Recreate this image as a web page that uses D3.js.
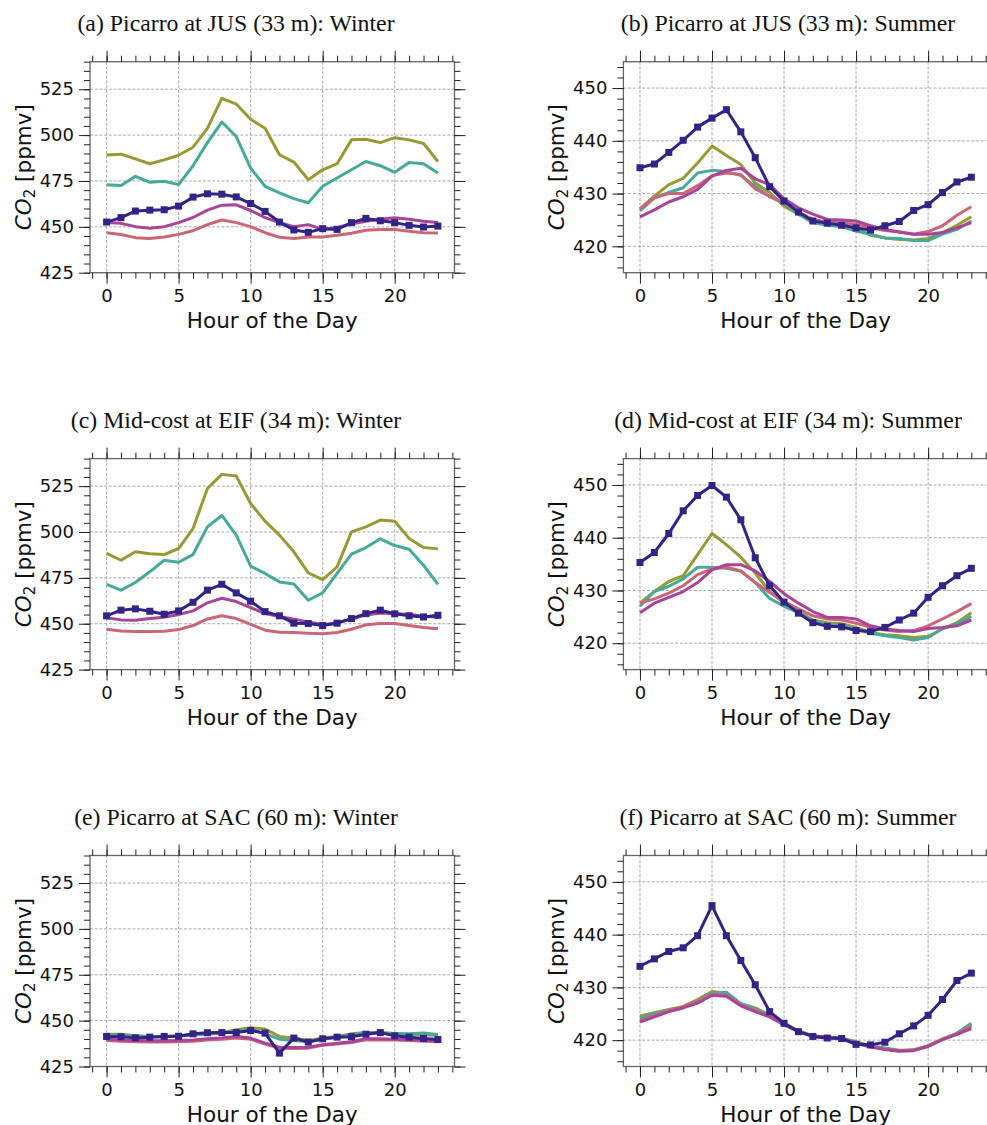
<!DOCTYPE html>
<html>
<head>
<meta charset="utf-8">
<script src="https://cdn.jsdelivr.net/npm/d3@7"></script>
<style>
body { margin: 0; background: #fff; }
svg text { font-family: "DejaVu Sans", sans-serif; fill: #111; }
.title { font-family: "Liberation Serif", "Times New Roman", serif; font-size: 23.8px; }
.tick text { font-size: 18px; }
.axis-label { font-size: 21.5px; }
</style>
</head>
<body>
<svg width="987" height="1125"></svg>
<script>
// hours on the x axis
var hours = [0,1,2,3,4,5,6,7,8,9,10,11,12,13,14,15,16,17,18,19,20,21,22,23];

var titles = [
    '(a) Picarro at JUS (33 m): Winter', '(b) Picarro at JUS (33 m): Summer',
    '(c) Mid-cost at EIF (34 m): Winter', '(d) Mid-cost at EIF (34 m): Summer',
    '(e) Picarro at SAC (60 m): Winter', '(f) Picarro at SAC (60 m): Summer'
];

var winterTicks = [425, 450, 475, 500, 525];
var summerTicks = [420, 430, 440, 450];
var xTicks = [0, 5, 10, 15, 20];

// (a) JUS winter
var aNavy = [452.6,455.0,458.6,459.1,459.3,461.3,466.2,468.0,467.8,466.3,462.7,458.4,452.6,448.3,447.0,449.0,448.6,452.3,454.6,453.3,452.3,450.8,449.9,450.4];
var aOlive = [489.1,489.6,487.0,484.4,486.5,489.0,493.4,503.7,520.0,516.9,508.6,503.7,489.3,485.3,475.7,481.1,484.4,497.4,497.7,495.9,498.6,497.4,495.4,485.6];
var aTeal = [473.0,472.5,477.5,474.3,474.8,473.0,483.3,495.9,507.1,499.2,482.0,472.1,468.5,465.4,463.1,472.1,476.6,481.1,485.6,483.3,479.7,485.1,484.4,479.3];
var aMagenta = [452.3,451.9,450.1,449.2,450.1,452.3,455.1,459.1,461.8,462.0,458.9,455.0,452.3,450.1,451.2,448.6,449.7,451.5,453.0,454.1,455.0,454.1,453.0,452.3];
var aRose = [446.8,445.8,444.1,443.6,444.5,445.9,447.9,451.2,453.7,452.3,450.1,446.8,444.3,443.6,444.5,444.5,445.4,446.5,448.1,448.6,448.6,447.6,446.8,446.7];

// (b) JUS summer
var bNavy = [434.9,435.6,437.8,440.1,442.6,444.3,445.9,441.7,436.8,431.3,428.6,426.5,424.8,424.4,424.0,423.5,423.1,423.9,424.7,426.8,427.9,430.2,432.2,433.1];
var bOlive = [427.1,429.5,431.7,432.9,435.8,439.0,437.2,435.5,432.0,430.2,427.6,426.1,424.8,424.2,424.0,423.5,422.1,421.6,421.3,421.2,421.5,422.6,424.0,425.6];
var bTeal = [426.7,429.2,430.2,431.1,433.9,434.4,434.2,433.4,431.4,429.4,428.1,426.1,424.5,424.0,423.7,422.9,422.3,421.6,421.5,421.1,421.1,422.3,423.2,424.8];
var bMagenta = [425.6,426.9,428.4,429.4,430.8,433.3,434.4,434.8,432.8,431.7,429.0,427.3,426.1,425.1,425.0,424.8,423.9,423.2,422.7,422.3,422.3,422.6,423.5,424.5];
var bRose = [427.1,429.2,430.0,430.0,431.5,433.4,433.9,433.6,430.9,429.5,428.3,426.5,425.1,424.6,424.4,424.2,423.5,423.0,422.7,422.3,422.8,423.9,425.9,427.5];

// (c) EIF winter
var cNavy = [454.3,457.4,458.1,456.8,455.2,457.0,461.7,468.3,471.5,466.8,462.3,456.6,454.3,450.3,450.1,449.0,450.3,452.8,455.5,457.4,455.4,454.3,453.7,454.6];
var cOlive = [488.3,484.6,489.2,488.1,487.7,491.0,501.9,523.7,531.4,530.5,515.5,505.9,498.3,489.2,477.7,474.1,481.0,500.1,502.8,506.5,505.9,496.5,491.5,490.8];
var cTeal = [471.5,468.3,472.5,478.3,484.6,483.5,487.7,502.8,509.0,498.3,481.4,477.4,472.8,471.7,462.8,466.8,477.4,487.9,491.5,496.3,492.6,490.6,481.9,471.5];
var cMagenta = [453.2,452.1,451.9,452.8,453.5,455.0,457.0,461.4,463.9,462.1,458.8,455.5,453.9,452.5,451.0,449.5,450.6,452.5,454.8,455.9,455.5,455.2,454.1,453.5];
var cRose = [447.0,446.1,445.7,445.7,445.9,446.8,449.0,452.6,454.3,452.8,449.7,446.5,445.4,445.2,444.8,444.5,445.2,447.0,449.4,450.1,450.1,449.0,447.9,447.2];

// (d) EIF summer
var dNavy = [435.3,437.2,440.8,445.1,448.0,449.9,447.7,443.4,436.2,430.9,427.8,425.7,423.9,423.2,423.1,422.4,422.2,423.0,424.4,425.7,428.7,430.9,432.8,434.2];
var dOlive = [427.6,429.8,431.7,432.8,436.8,440.8,438.7,436.3,433.3,429.8,427.6,426.0,424.4,423.9,423.7,423.0,422.0,421.6,421.4,421.1,421.3,422.7,423.9,425.8];
var dTeal = [427.0,429.8,430.8,432.2,434.4,434.4,434.2,433.7,431.5,428.5,427.0,425.8,424.2,423.6,423.4,422.7,421.9,421.4,421.1,420.6,421.1,422.8,423.6,425.1];
var dMagenta = [425.8,427.6,428.7,429.8,431.5,433.9,434.9,434.9,433.7,431.7,429.4,427.6,426.0,424.9,424.9,424.6,423.3,422.7,422.4,422.2,422.8,423.0,423.3,424.4];
var dRose = [427.6,428.4,429.5,430.9,433.0,434.1,434.4,433.7,431.5,429.6,427.9,426.5,425.2,424.6,424.4,423.8,423.0,422.5,422.2,422.4,423.3,424.6,426.0,427.5];

// (e) SAC winter
var eNavy = [441.4,441.2,440.6,441.0,441.4,441.5,442.8,443.4,443.5,443.5,444.6,443.2,432.3,440.5,438.3,440.1,441.0,441.2,442.6,443.5,441.7,441.0,440.3,439.7];
var eOlive = [442.6,442.6,441.7,441.4,441.4,441.7,442.3,442.8,443.5,445.0,446.1,445.4,441.4,440.5,439.2,440.5,441.4,442.8,443.5,443.7,442.8,442.3,442.3,441.9];
var eTeal = [442.3,442.1,441.6,441.2,441.2,441.6,442.1,442.6,443.2,444.4,445.4,442.8,439.9,439.2,438.5,439.9,441.0,442.5,443.2,443.2,443.0,442.8,443.2,442.5];
var eMagenta = [439.9,439.5,439.2,439.0,439.0,439.2,439.5,440.1,440.6,441.4,440.5,437.7,435.5,435.4,435.5,436.8,437.7,438.5,440.1,440.1,439.9,439.7,439.4,439.0];
var eRose = [439.2,438.8,438.5,438.3,438.3,438.5,438.8,439.4,439.9,440.5,439.9,437.2,435.0,434.8,435.0,436.6,437.2,438.1,439.5,439.5,439.4,439.2,438.8,438.5];

// (f) SAC summer
var fNavy = [434.0,435.4,436.8,437.5,439.8,445.5,439.8,435.1,430.5,425.4,423.2,421.6,420.7,420.4,420.3,419.2,419.1,419.6,421.2,422.7,424.7,427.7,431.3,432.7];
var fOlive = [424.6,425.2,425.8,426.4,427.7,429.2,428.9,426.9,426.1,424.8,423.2,421.8,420.8,420.6,420.3,419.7,418.9,418.4,418.0,418.2,418.9,420.2,421.3,423.0];
var fTeal = [424.2,425.0,425.6,426.2,427.4,428.9,429.1,426.9,425.9,424.5,423.1,421.7,420.8,420.6,420.4,419.6,418.9,418.5,418.1,418.1,418.9,420.2,421.3,423.2];
var fMagenta = [423.4,424.4,425.4,426.1,427.0,428.5,428.3,426.5,425.4,424.4,422.9,421.6,420.7,420.5,420.3,419.4,418.7,418.2,417.9,418.0,418.8,420.1,421.1,422.2];
var fRose = [423.7,424.7,425.6,426.3,427.3,428.7,428.5,426.7,425.6,424.5,423.0,421.7,420.8,420.6,420.3,419.5,418.8,418.3,418.0,418.1,418.9,420.2,421.2,422.6];

var colors = {olive: '#999933', teal: '#44aa99', rose: '#cc6677', magenta: '#aa4499', navy: '#332288'};

var panels = [
    {olive: aOlive, teal: aTeal, rose: aRose, magenta: aMagenta, navy: aNavy},
    {olive: bOlive, teal: bTeal, rose: bRose, magenta: bMagenta, navy: bNavy},
    {olive: cOlive, teal: cTeal, rose: cRose, magenta: cMagenta, navy: cNavy},
    {olive: dOlive, teal: dTeal, rose: dRose, magenta: dMagenta, navy: dNavy},
    {olive: eOlive, teal: eTeal, rose: eRose, magenta: eMagenta, navy: eNavy},
    {olive: fOlive, teal: fTeal, rose: fRose, magenta: fMagenta, navy: fNavy}
];
var drawOrder = ['olive', 'teal', 'rose', 'magenta', 'navy'];

var svg = d3.select('svg');

// layout
var colX = [90, 623.4];
var rowY = [61.7, 458.6, 855.5];
var titleX = [236, 788];
var W = 364.5, H = 211;

panels.forEach(function(p, i) {
    var col = i % 2, row = Math.floor(i / 2);
    var summer = col === 1;

    var g = svg.append('g')
        .attr('transform', 'translate(' + [colX[col], rowY[row]] + ')');

    var xScale = d3.scaleLinear().domain([-1.15, 24.15]).range([0, W]);
    var yScale = d3.scaleLinear().domain(summer ? [415, 455] : [425, 540]).range([H, 0]);
    var yTicks = summer ? summerTicks : winterTicks;
    var yMinor = summer ? d3.range(416, 455, 2) : d3.range(425, 541, 5);
    var xMinor = d3.range(-1, 25, 1);

    // title
    svg.append('text')
        .attr('class', 'title')
        .attr('x', titleX[col])
        .attr('y', rowY[row] - 31)
        .attr('text-anchor', 'middle')
        .text(titles[i]);

    // grid
    g.append('g').selectAll('line').data(xTicks).enter().append('line')
        .attr('x1', function(d){ return xScale(d); })
        .attr('x2', function(d){ return xScale(d); })
        .attr('y1', 0).attr('y2', H)
        .attr('stroke', '#a0a0a0').attr('stroke-width', 0.9)
        .attr('stroke-dasharray', '3,1.7');
    g.append('g').selectAll('line').data(yTicks).enter().append('line')
        .attr('y1', function(d){ return yScale(d); })
        .attr('y2', function(d){ return yScale(d); })
        .attr('x1', 0).attr('x2', W)
        .attr('stroke', '#a0a0a0').attr('stroke-width', 0.9)
        .attr('stroke-dasharray', '3,1.7');

    // lines
    var line = d3.line()
        .x(function(d, k){ return xScale(hours[k]); })
        .y(function(d){ return yScale(d); });

    var clipId = 'clip' + i;
    g.append('clipPath').attr('id', clipId)
        .append('rect').attr('width', W).attr('height', H);
    var plot = g.append('g').attr('clip-path', 'url(#' + clipId + ')');

    drawOrder.forEach(function(key) {
        plot.append('path')
            .datum(p[key])
            .attr('fill', 'none')
            .attr('stroke', colors[key])
            .attr('stroke-width', 3)
            .attr('stroke-linejoin', 'round')
            .attr('d', line);
    });

    plot.selectAll('.marker')
        .data(p.navy)
        .enter().append('rect')
        .attr('class', 'marker')
        .attr('x', function(d, k){ return xScale(hours[k]) - 3.5; })
        .attr('y', function(d){ return yScale(d) - 3.5; })
        .attr('width', 7).attr('height', 7)
        .attr('fill', colors.navy);

    // spines
    g.append('rect')
        .attr('width', W).attr('height', H)
        .attr('fill', 'none')
        .attr('stroke', '#666').attr('stroke-width', 1.3);

    // minor ticks
    function minor(axis, scale, vals) {
        return axis(scale).tickValues(vals).tickSize(6).tickFormat('');
    }
    g.append('g').attr('class', 'minor').attr('transform', 'translate(0,' + H + ')')
        .call(minor(d3.axisBottom, xScale, xMinor));
    g.append('g').attr('class', 'minor')
        .call(minor(d3.axisTop, xScale, xMinor));
    g.append('g').attr('class', 'minor')
        .call(minor(d3.axisLeft, yScale, yMinor));
    g.append('g').attr('class', 'minor').attr('transform', 'translate(' + W + ',0)')
        .call(minor(d3.axisRight, yScale, yMinor));

    // major ticks + labels
    g.append('g').attr('transform', 'translate(0,' + H + ')')
        .call(d3.axisBottom(xScale).tickValues(xTicks).tickSize(11).tickPadding(6));
    g.append('g')
        .call(d3.axisTop(xScale).tickValues(xTicks).tickSize(11).tickFormat(''));
    g.append('g')
        .call(d3.axisLeft(yScale).tickValues(yTicks).tickSize(11).tickPadding(5).tickFormat(d3.format('d')));
    g.append('g').attr('transform', 'translate(' + W + ',0)')
        .call(d3.axisRight(yScale).tickValues(yTicks).tickSize(11).tickFormat(''));

    g.selectAll('.domain').remove();
    g.selectAll('.tick line').attr('stroke', '#222').attr('stroke-width', 1);
    g.selectAll('.tick text').attr('fill', '#111');

    // axis labels
    g.append('text')
        .attr('class', 'axis-label')
        .attr('x', W / 2)
        .attr('y', H + 55)
        .attr('text-anchor', 'middle')
        .text('Hour of the Day');

    var yl = g.append('text')
        .attr('class', 'axis-label')
        .attr('transform', 'translate(' + [-67, H / 2] + ') rotate(-90)')
        .attr('text-anchor', 'middle')
        .attr('dy', '0.35em');
    yl.append('tspan').attr('font-style', 'italic').text('CO');
    yl.append('tspan').attr('font-size', '0.7em').attr('dy', '0.3em').text('2');
    yl.append('tspan').attr('dy', '-0.21em').text(' [ppmv]');
});
</script>
</body>
</html>
